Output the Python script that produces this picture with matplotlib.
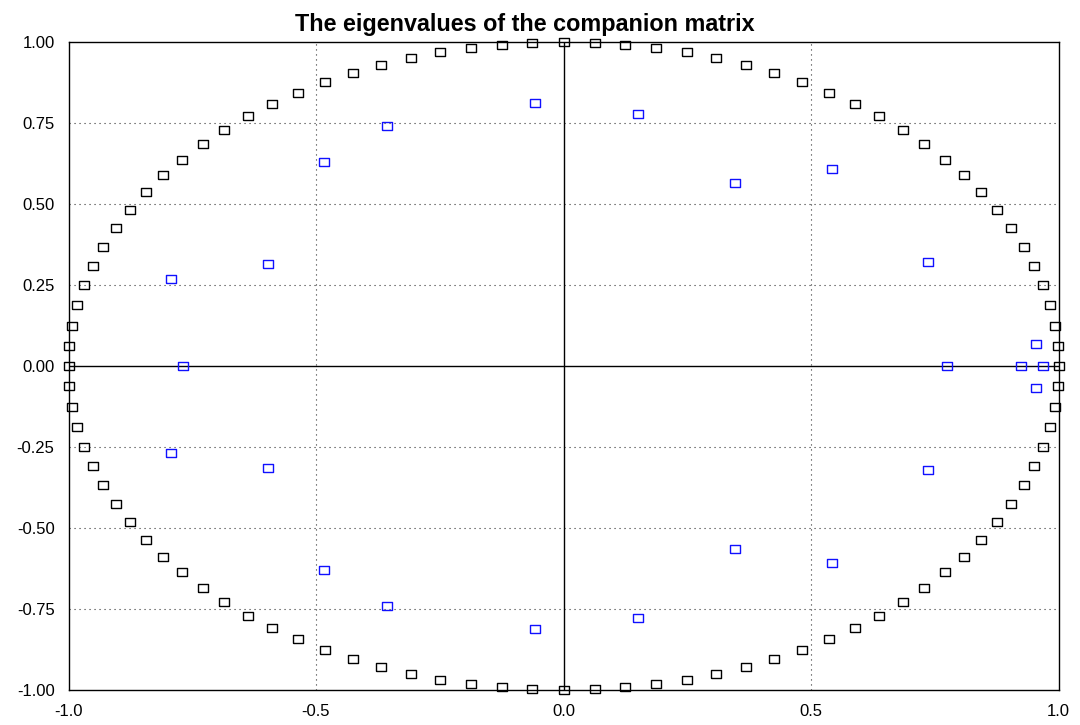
import matplotlib
matplotlib.use("Agg")
import matplotlib.pyplot as plt

plt.rcParams['font.family'] = ['Liberation Sans', 'DejaVu Sans']

# Unit-circle points (black)
circle_x = [1.000, 0.998, 0.992, 0.982, 0.969, 0.951, 0.930, 0.905, 0.876, 0.844, 0.809, 0.771, 0.729,
            0.685, 0.637, 0.588, 0.536, 0.482, 0.426, 0.368, 0.309, 0.249, 0.187, 0.125, 0.063,
            0.000, -0.063, -0.125, -0.187, -0.249, -0.309, -0.368, -0.426, -0.482, -0.536, -0.588, -0.637,
            -0.685, -0.729, -0.771, -0.809, -0.844, -0.876, -0.905, -0.930, -0.951, -0.969, -0.982, -0.992, -0.998,
            -1.000, -0.998, -0.992, -0.982, -0.969, -0.951, -0.930, -0.905, -0.876, -0.844, -0.809, -0.771, -0.729,
            -0.685, -0.637, -0.588, -0.536, -0.482, -0.426, -0.368, -0.309, -0.249, -0.187, -0.125, -0.063,
            0.000, 0.063, 0.125, 0.187, 0.249, 0.309, 0.368, 0.426, 0.482, 0.536, 0.588, 0.637,
            0.685, 0.729, 0.771, 0.809, 0.844, 0.876, 0.905, 0.930, 0.951, 0.969, 0.982, 0.992, 0.998]
circle_y = [0.000, 0.063, 0.125, 0.187, 0.249, 0.309, 0.368, 0.426, 0.482, 0.536, 0.588, 0.637, 0.685,
            0.729, 0.771, 0.809, 0.844, 0.876, 0.905, 0.930, 0.951, 0.969, 0.982, 0.992, 0.998,
            1.000, 0.998, 0.992, 0.982, 0.969, 0.951, 0.930, 0.905, 0.876, 0.844, 0.809, 0.771, 0.729,
            0.685, 0.637, 0.588, 0.536, 0.482, 0.426, 0.368, 0.309, 0.249, 0.187, 0.125, 0.063,
            0.000, -0.063, -0.125, -0.187, -0.249, -0.309, -0.368, -0.426, -0.482, -0.536, -0.588, -0.637, -0.685,
            -0.729, -0.771, -0.809, -0.844, -0.876, -0.905, -0.930, -0.951, -0.969, -0.982, -0.992, -0.998,
            -1.000, -0.998, -0.992, -0.982, -0.969, -0.951, -0.930, -0.905, -0.876, -0.844, -0.809, -0.771, -0.729,
            -0.685, -0.637, -0.588, -0.536, -0.482, -0.426, -0.368, -0.309, -0.249, -0.187, -0.125, -0.063]

# Eigenvalues (blue)
eig_re = [-0.768, -0.793, -0.793, -0.596, -0.596, -0.484, -0.484, -0.357, -0.357, -0.058, -0.058,
          0.150, 0.150, 0.346, 0.346, 0.542, 0.542, 0.737, 0.737, 0.775, 0.924, 0.955, 0.955, 0.968]
eig_im = [0.000, 0.268, -0.268, 0.315, -0.315, 0.629, -0.629, 0.740, -0.740, 0.811, -0.811,
          0.777, -0.777, 0.566, -0.566, 0.608, -0.608, 0.322, -0.322, 0.000, 0.000, 0.069, -0.069, 0.000]

x_ticks = [-1.0, -0.5, 0.0, 0.5, 1.0]
x_labels = ["-1.0", "-0.5", "0.0", "0.5", "1.0"]
y_ticks = [-1.0, -0.75, -0.5, -0.25, 0.0, 0.25, 0.5, 0.75, 1.0]
y_labels = ["-1.00", "-0.75", "-0.50", "-0.25", "0.00", "0.25", "0.50", "0.75", "1.00"]
title = "The eigenvalues of the companion matrix"

fig = plt.figure(figsize=(10.8, 7.25), dpi=100)
ax = fig.add_axes([68.5 / 1080, 1 - 690 / 725, 990 / 1080, 648 / 725])

rect = [(-5, -4), (5, -4), (5, 4), (-5, 4), (-5, -4)]

ax.set_xlim(-1, 1)
ax.set_ylim(-1, 1)
ax.set_xticks(x_ticks)
ax.set_xticklabels(x_labels)
ax.set_yticks(y_ticks)
ax.set_yticklabels(y_labels)
ax.tick_params(length=0, labelsize=12, pad=10, colors='black')

grid_style = dict(color='#333333', lw=0.8, linestyle=(0, (1, 3.5)), zorder=1)
for v in x_ticks:
    if v not in (-1.0, 0.0, 1.0):
        ax.axvline(v, **grid_style)
for v in y_ticks:
    if v not in (-1.0, 0.0, 1.0):
        ax.axhline(v, **grid_style)
ax.axhline(0, color='black', lw=1.0, zorder=1.5)
ax.axvline(0, color='black', lw=1.0, zorder=1.5)

ax.plot(circle_x, circle_y, linestyle='none', marker=rect, markersize=7.8,
        markerfacecolor='none', markeredgecolor='black', markeredgewidth=1.0,
        zorder=3, clip_on=False)
ax.plot(eig_re, eig_im, linestyle='none', marker=rect, markersize=7.8,
        markerfacecolor='none', markeredgecolor='#1010ff', markeredgewidth=1.0,
        zorder=3, clip_on=False)

for s in ax.spines.values():
    s.set_linewidth(1.0)
    s.set_color('black')

fig.text(524.5 / 1080, 1 - 30.7 / 725, title, ha='center', va='baseline',
         fontsize=16.8, fontweight='bold')

fig.savefig("out.png", dpi=100)
